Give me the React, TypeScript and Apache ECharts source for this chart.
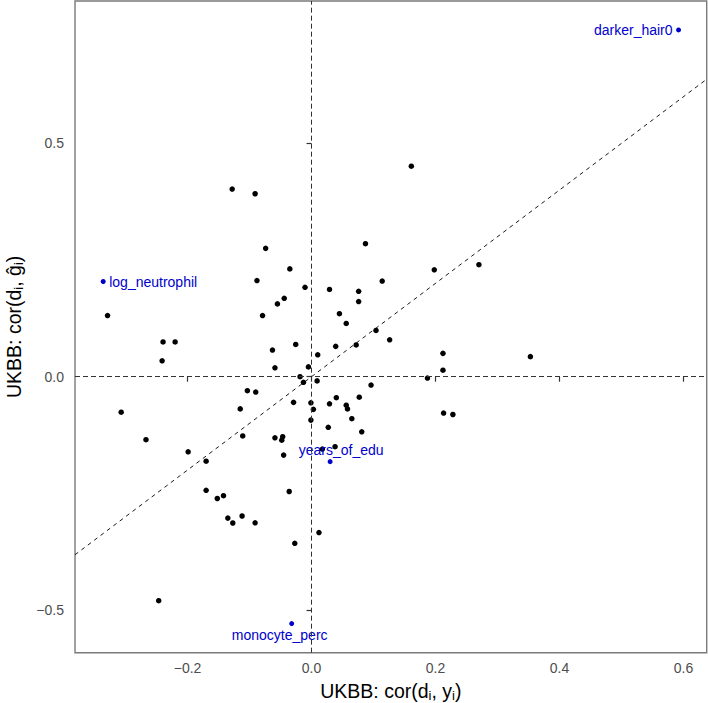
import React, { useEffect, useRef } from "react";
import * as echarts from "echarts";

// Black points: x = UKBB cor(d_i, y_i), y = UKBB cor(d_i, ĝ_i)
const pointX = [-0.128, -0.091, -0.074, -0.035, -0.088, -0.0105, 0.029, 0.076, 0.076, -0.044, -0.055, -0.079, -0.329, 0.045, 0.056, -0.2395, -0.22, -0.063, -0.0255, 0.039, 0.072, 0.01, 0.161, 0.087, 0.198, 0.27, 0.114, 0.104, 0.126, 0.212, 0.353, 0.212, 0.187, 0.096, 0.077, 0.065, 0.081, 0.213, 0.228, -0.241, -0.059, -0.005, -0.0185, -0.013, 0.009, -0.1035, -0.09, -0.307, -0.029, -0.001, 0.003, -0.001, 0.029, 0.04, 0.056, 0.058, -0.115, 0.027, -0.267, -0.111, -0.059, -0.0465, -0.048, 0.038, 0.0175, -0.199, -0.045, -0.17, -0.036, -0.17, -0.152, -0.142, -0.135, -0.127, -0.112, -0.091, 0.012, -0.027, -0.2465];
const pointY = [0.402, 0.392, 0.275, 0.231, 0.206, 0.1915, 0.187, 0.183, 0.161, 0.168, 0.156, 0.131, 0.131, 0.135, 0.114, 0.0744, 0.0744, 0.057, 0.069, 0.065, 0.068, 0.047, 0.451, 0.285, 0.229, 0.24, 0.205, 0.099, 0.079, 0.05, 0.043, 0.014, -0.003, -0.018, -0.044, -0.09, -0.118, -0.078, -0.081, 0.034, 0.019, 0.021, 0.0, -0.012, -0.009, -0.03, -0.033, -0.076, -0.055, -0.056, -0.07, -0.093, -0.058, -0.045, -0.061, -0.069, -0.069, -0.1085, -0.135, -0.127, -0.131, -0.1286, -0.136, -0.15, -0.155, -0.161, -0.168, -0.181, -0.246, -0.2435, -0.261, -0.255, -0.303, -0.3135, -0.2985, -0.313, -0.334, -0.357, -0.48];

// Highlighted (blue) traits
const labelNames = ["log_neutrophil", "darker_hair0", "years_of_edu", "monocyte_perc"];
const labelX = [-0.336, 0.592, 0.03, -0.032];
const labelY = [0.204, 0.743, -0.182, -0.529];

// Axes
const xTicks = [-0.2, 0, 0.2, 0.4, 0.6];
const xTickLabels = ["\u22120.2", "0.0", "0.2", "0.4", "0.6"];
const yTicks = [-0.5, 0, 0.5];
const yTickLabels = ["\u22120.5", "0.0", "0.5"];
const xRange = [-0.3815, 0.6374];
const yRange = [-0.5914, 0.805];

const FONT = "Liberation Sans, Arial, Helvetica, sans-serif";
const BLUE = "#0000CD";

const labelLayouts: any[] = [
  { position: "right", distance: 3.5, offset: [0, 1] },
  { position: "left", distance: 3.5, offset: [0, 0] },
  { position: "top", distance: 2, offset: [11, 0] },
  { position: "bottom", distance: 2, offset: [-12, 0] },
];

function fmt(ticks: number[], labels: string[]) {
  return (v: number) => {
    const i = ticks.findIndex((t) => Math.abs(t - v) < 1e-9);
    return i >= 0 ? labels[i] : "";
  };
}

const titleStyle = {
  color: "#000",
  fontSize: 19.5,
  fontFamily: FONT,
  lineHeight: 22,
  rich: { s: { fontSize: 13, fontFamily: FONT, color: "#000", verticalAlign: "bottom", lineHeight: 13 } },
};

export default function App() {
  const ref = useRef<HTMLDivElement>(null);
  useEffect(() => {
    if (!ref.current) return;
    const chart = echarts.init(ref.current, null, { renderer: "svg" });
    const dashV = { color: "#333", type: [5, 3], width: 1 };
    chart.setOption({
      animation: false,
      backgroundColor: "#fff",
      grid: {
        left: 75,
        right: 1.3,
        top: 1,
        bottom: 50.3,
        show: true,
        borderColor: "#7a7a7a",
        borderWidth: 1.4,
        backgroundColor: "transparent",
        containLabel: false,
        outerBoundsMode: "none",
      },
      xAxis: {
        type: "value",
        min: xRange[0],
        max: xRange[1],
        splitLine: { show: false },
        axisLine: { show: false },
        axisTick: { show: true, length: 5, customValues: xTicks, lineStyle: { color: "#333", width: 1.2 } },
        axisLabel: {
          customValues: xTicks,
          formatter: fmt(xTicks, xTickLabels),
          color: "#4d4d4d",
          fontSize: 14,
          fontFamily: FONT,
          margin: 8,
        },
        name: "UKBB: cor(d{s|i}, y{s|i})",
        nameLocation: "middle",
        nameGap: 21,
        nameTextStyle: titleStyle,
      },
      yAxis: {
        type: "value",
        min: yRange[0],
        max: yRange[1],
        splitLine: { show: false },
        axisLine: { show: false },
        axisTick: { show: true, length: 5, customValues: yTicks, lineStyle: { color: "#333", width: 1.2 } },
        axisLabel: {
          customValues: yTicks,
          formatter: fmt(yTicks, yTickLabels),
          color: "#4d4d4d",
          fontSize: 14,
          fontFamily: FONT,
          margin: 11,
        },
        name: "UKBB: cor(d{s|i}, \u011D{s|i})",
        nameLocation: "middle",
        nameGap: 45,
        nameTextStyle: titleStyle,
      },
      series: [
        {
          type: "scatter",
          data: [],
          z: 1,
          markLine: {
            silent: true,
            symbol: ["none", "none"],
            label: { show: false },
            animation: false,
            data: [
              { xAxis: 0, lineStyle: dashV },
              { yAxis: 0, lineStyle: dashV },
              [
                { coord: [xRange[0], xRange[0]], lineStyle: { color: "#000", type: [4, 4], width: 0.9 } },
                { coord: [xRange[1], xRange[1]] },
              ],
            ],
          },
        },
        {
          type: "scatter",
          z: 3,
          symbolSize: 5.5,
          itemStyle: { color: "#000", opacity: 1 },
          data: pointX.map((x, i) => [x, pointY[i]]),
        },
        {
          type: "scatter",
          z: 4,
          symbolSize: 5,
          itemStyle: { color: BLUE, opacity: 1 },
          data: labelX.map((x, i) => ({
            value: [x, labelY[i]],
            name: labelNames[i],
            label: {
              show: true,
              formatter: labelNames[i],
              color: BLUE,
              fontSize: 14,
              fontFamily: FONT,
              ...labelLayouts[i],
            },
          })),
        },
      ],
    });
    return () => chart.dispose();
  }, []);
  return <div ref={ref} style={{ position: "absolute", left: 0, top: 0, width: 708, height: 703 }} />;
}
